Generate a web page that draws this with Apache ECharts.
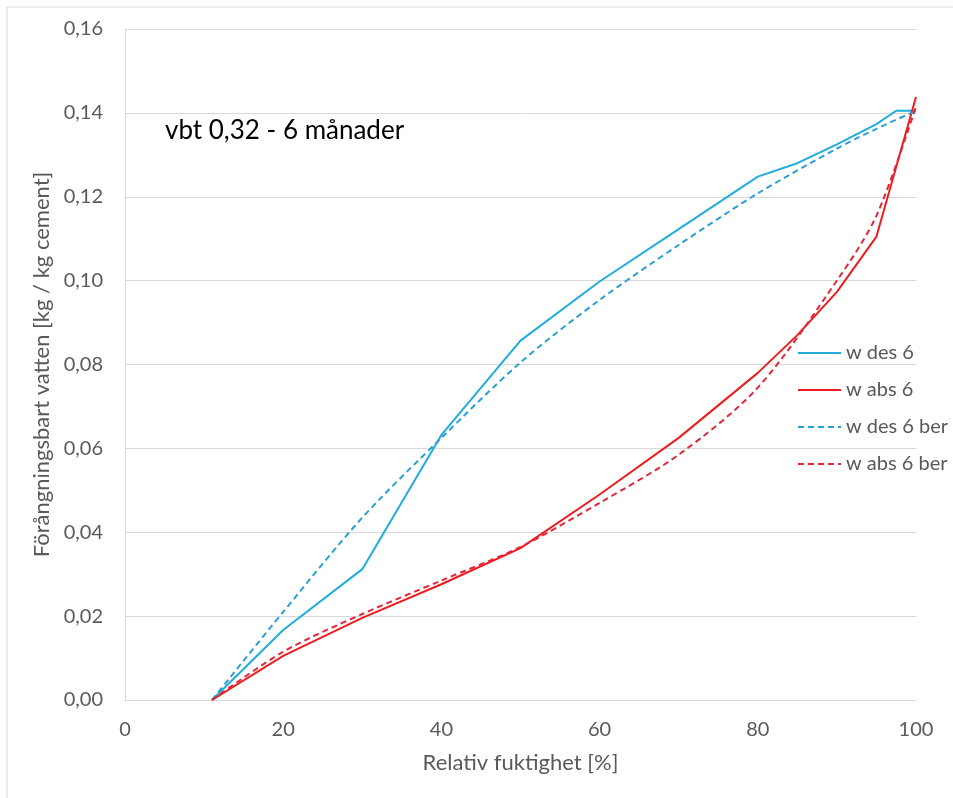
<!DOCTYPE html>
<html>
<head>
<meta charset="utf-8">
<script src="https://cdn.jsdelivr.net/npm/echarts@6/dist/echarts.min.js"></script>
<style>
html,body{margin:0;padding:0;background:#fff;}
#chart{width:953px;height:798px;}
</style>
</head>
<body>
<div id="chart"></div>
<script>
// Data
var rh = [11, 20, 30, 40, 50, 60, 70, 80, 85, 90, 95, 97.5, 100];
var wDes6 = [0, 0.0167, 0.0312, 0.0632, 0.0857, 0.0998, 0.1123, 0.1248, 0.128, 0.1325, 0.1373, 0.1405, 0.1405];
var rhAbs = [11, 20, 30, 40, 50, 60, 70, 80, 85, 90, 95, 100];
var wAbs6 = [0, 0.0105, 0.0196, 0.0276, 0.0362, 0.049, 0.0625, 0.078, 0.087, 0.0973, 0.1105, 0.1438];
var rhBer = [11, 20, 30, 40, 50, 60, 70, 80, 90, 95, 100];
var wDes6Ber = [0, 0.021, 0.0435, 0.0625, 0.0805, 0.0954, 0.1085, 0.1208, 0.1315, 0.1362, 0.1405];
var wAbs6Ber = [0, 0.0115, 0.0205, 0.0285, 0.0365, 0.047, 0.0585, 0.0745, 0.1, 0.1155, 0.1415];
var seriesNames = ['w des 6', 'w abs 6', 'w des 6 ber', 'w abs 6 ber'];
var titleText = 'vbt 0,32 - 6 månader';

function pairs(xs, ys) { return xs.map(function (x, i) { return [x, ys[i]]; }); }

var chart = echarts.init(document.getElementById('chart'));
var font = 'Lato, "Open Sans", sans-serif';
var gray = '#595959';
chart.setOption({
  animation: false,
  textStyle: { fontFamily: font },
  grid: { left: 125, right: 37, top: 29, bottom: 98 },
  graphic: [
    { type: 'line', shape: { x1: 7, y1: 7, x2: 953, y2: 7 }, style: { stroke: '#d9d9d9', lineWidth: 1 }, silent: true },
    { type: 'line', shape: { x1: 7, y1: 7, x2: 7, y2: 798 }, style: { stroke: '#d9d9d9', lineWidth: 1 }, silent: true },
    { type: 'text', left: 165, top: 118, style: { text: titleText, fontSize: 26, fill: '#000', fontFamily: font } }
  ],
  legend: {
    orient: 'vertical', left: 792, top: 338, itemWidth: 43, itemHeight: 14, itemGap: 17,
    padding: 5,
    itemStyle: { opacity: 0 },
    textStyle: { fontSize: 20, color: gray, fontFamily: font, padding: [0, 0, 0, 0] },
    data: seriesNames
  },
  xAxis: {
    type: 'value', min: 0, max: 100, interval: 20,
    name: 'Relativ fuktighet [%]', nameLocation: 'middle', nameGap: 52,
    nameTextStyle: { fontSize: 22, color: gray },
    axisLine: { show: true, lineStyle: { color: '#d9d9d9' } },
    axisTick: { show: false },
    axisLabel: { fontSize: 20, color: gray, margin: 20 },
    splitLine: { show: false }
  },
  yAxis: {
    type: 'value', min: 0, max: 0.16, interval: 0.02,
    name: 'Förångningsbart vatten [kg / kg cement]', nameLocation: 'middle', nameGap: 72,
    nameTextStyle: { fontSize: 22, color: gray },
    axisLine: { show: true, lineStyle: { color: '#d9d9d9' } },
    axisTick: { show: false },
    axisLabel: { fontSize: 20, color: gray, margin: 22, formatter: function (v) { return v.toFixed(2).replace('.', ','); } },
    splitLine: { show: true, lineStyle: { color: '#d9d9d9' } }
  },
  series: [
    { name: seriesNames[0], type: 'line', symbol: 'none', data: pairs(rh, wDes6), lineStyle: { color: '#20ADDB', width: 2 }, itemStyle: { color: '#20ADDB' } },
    { name: seriesNames[1], type: 'line', symbol: 'none', data: pairs(rhAbs, wAbs6), lineStyle: { color: '#EE1C1C', width: 2 }, itemStyle: { color: '#EE1C1C' } },
    { name: seriesNames[2], type: 'line', symbol: 'none', smooth: 0.3, data: pairs(rhBer, wDes6Ber), lineStyle: { color: '#2A9FD6', width: 2, type: [6, 4] }, itemStyle: { color: '#2A9FD6' } },
    { name: seriesNames[3], type: 'line', symbol: 'none', smooth: 0.3, data: pairs(rhBer, wAbs6Ber), lineStyle: { color: '#E3263A', width: 2, type: [6, 4] }, itemStyle: { color: '#E3263A' } }
  ]
});
</script>
</body>
</html>
